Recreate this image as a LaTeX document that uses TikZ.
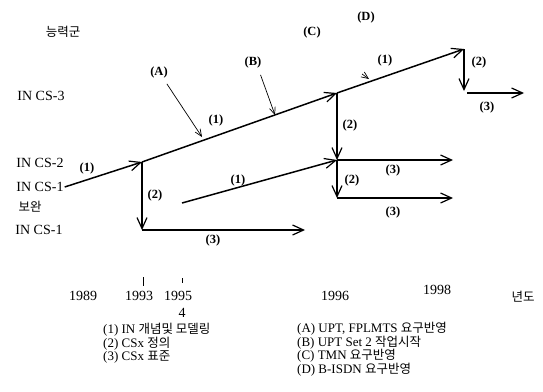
\documentclass[tikz,border=0pt]{standalone}
\usepackage{fontspec}
\setmainfont{Liberation Serif}
\newfontfamily\kr{Noto Sans CJK KR}
\usetikzlibrary{arrows.meta,positioning}

\newcommand\hg[1]{{\kr\fontsize{12.5}{14}\selectfont #1}}

\begin{document}
\begin{tikzpicture}[x=1pt,y=-1pt,
  every node/.style={font=\fontsize{14}{16}\selectfont, inner sep=1pt},
  flow/.style={line width=1.5pt, -{Straight Barb[length=11pt,width=10pt,line width=1.2pt]}},
  pointer/.style={line width=0.7pt, -{Straight Barb[length=7pt,width=6pt]}},
  tag/.style={font=\bfseries\fontsize{12.5}{14}\selectfont},
  hangul/.style={font=\kr\fontsize{12.5}{14}\selectfont},
  legend/.style={font=\fontsize{13}{14}\selectfont, align=left, anchor=west, inner sep=0pt}]
  \useasboundingbox (0,0) rectangle (543,391);

  % levels
  \node[hangul] (cap) at (63,32) {능력군};
  \node (cs3) at (41,96) {IN CS-3};
  \node (cs2) at (40,163) {IN CS-2};
  \node (cs1a) at (40,187) {IN CS-1};
  \node[hangul] (supp) at (30,207) {보완};
  \node (cs1) at (39,230) {IN CS-1};

  % corner points
  \coordinate (p93) at (142,162);
  \coordinate (p93b) at (142,230);
  \coordinate (e93) at (305,230);
  \coordinate (s95) at (182,203);
  \coordinate (p96) at (337,93);
  \coordinate (q96) at (337,160);
  \coordinate (r96) at (337,198);
  \coordinate (e96a) at (453,160);
  \coordinate (e96b) at (453,198);
  \coordinate (p98) at (464,49);
  \coordinate (q98) at (464,91);
  \coordinate (s98) at (467,93);
  \coordinate (e98) at (524,93);

  \draw[flow] (cs1a.east) -- (p93);
  \draw[flow] (p93) -- (p93b);
  \draw[line width=1.5pt] (p93b) -- ++(2,0);
  \draw[flow] (p93b) -- (e93);
  \draw[flow] (p93) -- (p96);
  \draw[flow] (p96) -- (p98);
  \draw[flow] (p96) -- (q96);
  \draw[flow] (q96) -- (e96a);
  \draw[flow] (s95) -- (q96);
  \draw[flow] (q96) -- (r96);
  \draw[line width=1.5pt] (r96) -- ++(2,0);
  \draw[flow] (r96) -- (e96b);
  \draw[flow] (p98) -- (q98);
  \draw[flow] (s98) -- (e98);

  % step labels
  \node[tag] (l1a) at (87,168) {(1)};
  \node[tag] (l2a) at (155,195) {(2)};
  \node[tag] (l3a) at (213,240) {(3)};
  \node[tag] (l1b) at (238,180) {(1)};
  \node[tag] (l1c) at (216,120) {(1)};
  \node[tag] (l2b) at (350,125) {(2)};
  \node[tag] (l3b) at (393,170) {(3)};
  \node[tag] (l2c) at (352,180) {(2)};
  \node[tag] (l3c) at (393,212) {(3)};
  \node[tag] (l1d) at (385,60) {(1)};
  \node[tag] (l2d) at (479,62) {(2)};
  \node[tag] (l3d) at (487,107) {(3)};

  % events
  \node[tag] (ea) at (159,72) {(A)};
  \node[tag] (eb) at (253,62) {(B)};
  \node[tag] (ec) at (312,32) {(C)};
  \node[tag] (ed) at (366,17) {(D)};
  \coordinate (ta) at (202,137);
  \coordinate (tb) at (275,115);
  \coordinate (tc) at (369,79);
  \draw[pointer] (ea.south east) ++(-2,5) -- (ta);
  \draw[pointer] (eb.south east) ++(-2,6) -- (tb);
  \draw[pointer] (362,74) -- (tc);

  % years
  \node (y89) at (83,296) {1989};
  \node (y93) at (139,296) {1993};
  \node (y95) at (178,296) {1995};
  \node (y95m) at (182,313) {4};
  \node (y96) at (335,296) {1996};
  \node (y98) at (437,290) {1998};
  \node[hangul] (year) at (523,297) {년도};
  \draw[line width=0.9pt] (143,277) -- (143,286);
  \draw[line width=0.7pt] (182,278) -- (182,283);

  % legend
  \node[legend] (k1) at (103,330) {(1) IN \hg{개념및 모델링}};
  \node[legend, below=0pt of k1.south west, anchor=north west] (k2) {(2) CSx \hg{정의}};
  \node[legend, below=0pt of k2.south west, anchor=north west] (k3) {(3) CSx \hg{표준}};
  \node[legend] (ka) at (297,329) {(A) UPT, FPLMTS \hg{요구반영}};
  \node[legend, below=0pt of ka.south west, anchor=north west] (kb) {(B) UPT Set 2 \hg{작업시작}};
  \node[legend, below=0pt of kb.south west, anchor=north west] (kc) {(C) TMN \hg{요구반영}};
  \node[legend, below=0pt of kc.south west, anchor=north west] (kd) {(D) B-ISDN \hg{요구반영}};
\end{tikzpicture}
\end{document}
